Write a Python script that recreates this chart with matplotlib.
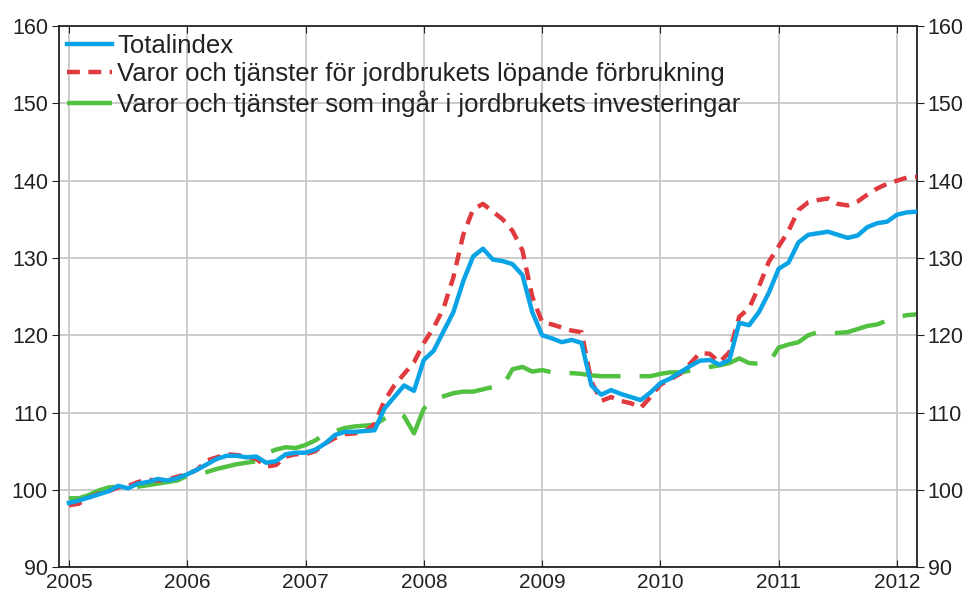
import numpy as np
import matplotlib.pyplot as plt

plt.rcParams['font.family'] = ['Liberation Sans', 'DejaVu Sans']

# monthly values, Jan 2005 - Mar 2012
total = [98.3, 98.6, 99.0, 99.4, 99.8, 100.5, 100.2, 100.8, 101.0, 101.4, 101.2, 101.5,
         102.0, 102.6, 103.3, 104.0, 104.4, 104.4, 104.2, 104.3, 103.5, 103.7, 104.6, 104.8,
         104.8, 105.2, 106.0, 107.1, 107.5, 107.5, 107.6, 107.7, 110.5, 112.0, 113.5, 112.8,
         116.8, 118.0, 120.5, 123.0, 127.0, 130.2, 131.2, 129.8, 129.6, 129.2, 127.8, 123.0,
         120.0, 119.6, 119.1, 119.4, 119.0, 113.5, 112.3, 112.9, 112.4, 112.0, 111.6, 112.6,
         113.8, 114.4, 115.2, 116.0, 116.7, 116.8, 116.2, 116.8, 121.6, 121.3, 123.0, 125.5,
         128.6, 129.4, 132.0, 133.0, 133.2, 133.4, 133.0, 132.6, 132.9, 134.0, 134.5, 134.7,
         135.6, 135.9, 136.0]
current = [98.0, 98.2, 99.0, 99.5, 99.8, 100.3, 100.5, 101.0, 101.3, 101.2, 101.3, 101.7,
           102.0, 102.6, 103.8, 104.2, 104.6, 104.5, 104.3, 104.0, 103.0, 103.2, 104.3, 104.6,
           104.6, 105.0, 106.0, 106.7, 107.2, 107.3, 107.5, 108.5, 111.5, 113.5, 115.0, 116.5,
           119.0, 121.0, 123.5, 127.5, 133.0, 136.3, 137.0, 136.0, 135.0, 133.5, 131.0, 125.0,
           121.7, 121.4, 121.0, 120.6, 120.4, 114.0, 111.5, 112.0, 111.5, 111.2, 110.6, 112.0,
           113.6, 114.3, 115.0, 116.3, 117.7, 117.6, 116.5, 117.8, 122.4, 123.5, 126.3, 129.5,
           131.5, 133.5, 136.2, 137.2, 137.5, 137.7, 137.0, 136.8, 137.3, 138.2, 139.0, 139.6,
           140.0, 140.4, 140.5]
invest = [98.9, 98.9, 99.3, 99.9, 100.3, 100.4, 100.2, 100.4, 100.6, 100.8, 101.0, 101.2,
          101.8, 102.1, 102.3, 102.7, 103.0, 103.3, 103.5, 103.7, 104.7, 105.2, 105.5, 105.4,
          105.8, 106.4, 107.2, 107.6, 108.0, 108.2, 108.3, 108.4, 109.2, 110.0, 109.5, 107.3,
          110.5, 111.7, 112.1, 112.5, 112.7, 112.7, 113.0, 113.3, 113.4, 115.6, 115.9, 115.3,
          115.5, 115.2, 115.1, 115.1, 115.0, 114.8, 114.7, 114.7, 114.7, 114.7, 114.7, 114.7,
          115.0, 115.2, 115.2, 115.4, 115.6, 115.9, 116.1, 116.4, 117.0, 116.4, 116.3, 116.4,
          118.4, 118.8, 119.1, 120.0, 120.4, 120.3, 120.3, 120.4, 120.8, 121.2, 121.4, 121.9,
          122.3, 122.6, 122.7]
labels = ['Totalindex',
          'Varor och tjänster för jordbrukets löpande förbrukning',
          'Varor och tjänster som ingår i jordbrukets investeringar']
years = list(range(2005, 2013))

months = 2005 + np.arange(len(total)) / 12

fig = plt.figure(figsize=(9.69, 5.95), dpi=100)
ax = fig.add_axes([0.061, 0.047, 0.885, 0.909])

ax.plot(months, total, color='#0aa3e6', lw=3.2, label=labels[0], zorder=4)
ax.plot(months, current, color='#e0393e', lw=3.2, dashes=(2.9, 1.9), label=labels[1], zorder=3)
ax.plot(months, invest, color='#52c041', lw=3.2, dashes=(11.5, 4.3), label=labels[2], zorder=2)

ax.set_xlim(2005 - 1 / 12, months[-1])
ax.set_ylim(90, 160)
ax.set_xticks(years)
ax.set_yticks(range(90, 161, 10))
ax.grid(True, color='#c8c8c8', lw=1.3)
ax.set_axisbelow(True)

ax.tick_params(axis='y', which='both', left=True, right=True, labelleft=True,
               labelright=True, direction='out', length=5, labelsize=15.5,
               colors='#222222', pad=3)
ax.tick_params(axis='x', top=True, direction='in', length=5, labelsize=15,
               colors='#222222', pad=4)
for s in ax.spines.values():
    s.set_color('#222222')
    s.set_linewidth(1.3)

leg = ax.legend(loc='upper left', frameon=False, fontsize=18.5, handlelength=1.75,
                handletextpad=0.2, labelspacing=0.17, borderaxespad=0.05,
                borderpad=0.25)
for t in leg.get_texts():
    t.set_color('#222222')

fig.savefig('out.png', dpi=100)
